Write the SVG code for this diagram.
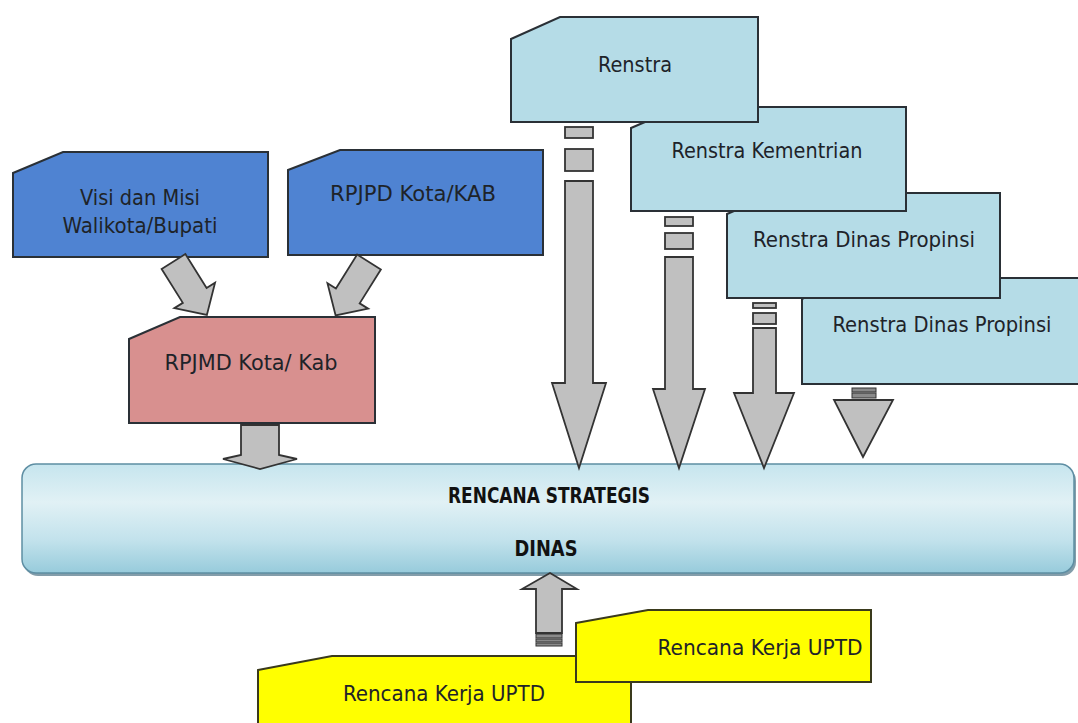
<svg xmlns="http://www.w3.org/2000/svg" width="1078" height="723" viewBox="0 0 1078 723">
<defs>
<style>
.box{stroke:#2a3036;stroke-width:2;stroke-linejoin:miter}
.blue{fill:#4f83d2}
.pink{fill:#d8908f}
.lb{fill:#b5dce7}
.yel{fill:#ffff00;stroke:#3a3a1c}
.arr{fill:#c0c0c0;stroke:#333;stroke-width:1.8;stroke-linejoin:miter}
.stripe{fill:#8a8a8a;stroke:#333;stroke-width:1}
.t{font-family:"DejaVu Sans Condensed","DejaVu Sans",sans-serif;font-size:21px;fill:#1e2329;text-anchor:middle}
.tb{font-family:"DejaVu Sans Condensed","DejaVu Sans",sans-serif;font-size:21px;font-weight:bold;fill:#111;text-anchor:middle}
</style>
<linearGradient id="barg" x1="0" y1="0" x2="0" y2="1">
<stop offset="0" stop-color="#c6e5ee"/>
<stop offset="0.35" stop-color="#e1f1f5"/>
<stop offset="0.7" stop-color="#c2e2ec"/>
<stop offset="1" stop-color="#97cbdb"/>
</linearGradient>
</defs>
<rect width="1078" height="723" fill="#ffffff"/>

<g id="bar">
<rect x="24" y="467" width="1052" height="109" rx="14" fill="#4f7386" opacity="0.7"/>
<rect x="22" y="464" width="1052" height="109" rx="14" fill="url(#barg)" stroke="#5e8ea3" stroke-width="1.5"/>
<text class="tb" x="549" y="503" textLength="202" lengthAdjust="spacingAndGlyphs">RENCANA STRATEGIS</text>
<text class="tb" x="546" y="556" textLength="63" lengthAdjust="spacingAndGlyphs">DINAS</text>
</g>

<g id="visi">
<polygon class="box blue" points="13,173 63,152 268,152 268,257 13,257"/>
<text class="t" x="140" y="205" textLength="120" lengthAdjust="spacingAndGlyphs">Visi dan Misi</text>
<text class="t" x="140" y="233" textLength="155" lengthAdjust="spacingAndGlyphs">Walikota/Bupati</text>
</g>
<g id="rpjpd">
<polygon class="box blue" points="288,170 340,150 543,150 543,255 288,255"/>
<text class="t" x="413" y="201" textLength="166" lengthAdjust="spacingAndGlyphs">RPJPD Kota/KAB</text>
</g>
<g id="rpjmd">
<polygon class="box pink" points="129,339 180,317 375,317 375,423 129,423"/>
<text class="t" x="251" y="370" textLength="173" lengthAdjust="spacingAndGlyphs">RPJMD Kota/ Kab</text>
</g>

<g id="renstra-dinas-2">
<polygon class="box lb" points="802,299 840,278 1090,278 1090,384 802,384"/>
<text class="t" x="942" y="332" textLength="219" lengthAdjust="spacingAndGlyphs">Renstra Dinas Propinsi</text>
</g>
<g id="renstra-dinas-1">
<polygon class="box lb" points="727,214 776,193 1000,193 1000,298 727,298"/>
<text class="t" x="864" y="247" textLength="222" lengthAdjust="spacingAndGlyphs">Renstra Dinas Propinsi</text>
</g>
<g id="renstra-kementrian">
<polygon class="box lb" points="631,128 680,107 906,107 906,211 631,211"/>
<text class="t" x="767" y="158" textLength="191" lengthAdjust="spacingAndGlyphs">Renstra Kementrian</text>
</g>
<g id="renstra">
<polygon class="box lb" points="511,39 560,17 758,17 758,122 511,122"/>
<text class="t" x="635" y="72" textLength="74" lengthAdjust="spacingAndGlyphs">Renstra</text>
</g>

<g id="uptd-1">
<polygon class="box yel" points="258,670 332,656 631,656 631,730 258,730"/>
<text class="t" x="444" y="701" textLength="202" lengthAdjust="spacingAndGlyphs">Rencana Kerja UPTD</text>
</g>
<g id="uptd-2">
<polygon class="box yel" points="576,623 648,610 871,610 871,682 576,682"/>
<text class="t" x="760" y="655" textLength="205" lengthAdjust="spacingAndGlyphs">Rencana Kerja UPTD</text>
</g>

<g id="connectors">
<polygon class="arr" transform="translate(173.5,261.5) rotate(58)" points="0,-14 40,-14 40,-24 63,0 40,24 40,14 0,14"/>
<polygon class="arr" transform="translate(369,262) rotate(122)" points="0,-14 40,-14 40,-24 63,0 40,24 40,14 0,14"/>
<polygon class="arr" points="241,425 279,425 279,455 297,459 260,469 223,459 241,455"/>

<rect class="arr" x="565" y="127" width="28" height="11"/>
<rect class="arr" x="565" y="149" width="28" height="22"/>
<polygon class="arr" points="565,181 593,181 593,383 606,383 579,468 552,383 565,383"/>

<rect class="arr" x="665" y="217" width="28" height="9"/>
<rect class="arr" x="665" y="233" width="28" height="16"/>
<polygon class="arr" points="665,257 693,257 693,389 705,389 679,468 653,389 665,389"/>

<rect class="arr" x="753" y="303" width="23" height="5"/>
<rect class="arr" x="753" y="313" width="23" height="11"/>
<polygon class="arr" points="753,328 776,328 776,393 794,393 764,468 734,393 753,393"/>

<rect class="stripe" x="852" y="388" width="24" height="4"/>
<rect class="stripe" x="852" y="393" width="24" height="5"/>
<polygon class="arr" points="834,400 893,400 863,457"/>

<polygon class="arr" points="550,573 577,589 562,589 562,633 536,633 536,589 522,589"/>
<rect class="stripe" x="536" y="634" width="26" height="4"/>
<rect class="stripe" x="536" y="639" width="26" height="3"/>
<rect class="stripe" x="536" y="643" width="26" height="3"/>
</g>
</svg>
